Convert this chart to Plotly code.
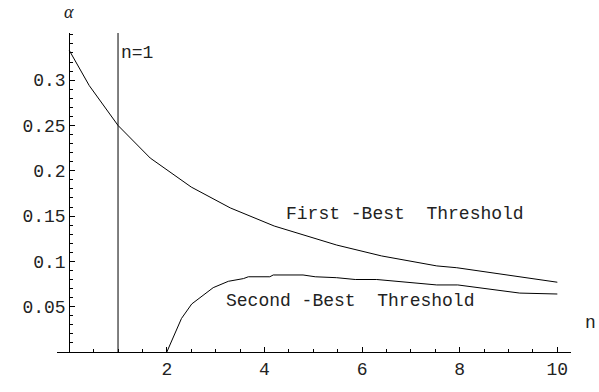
import plotly.graph_objects as go

# First-best threshold curve
fb_n = [0, 0.41, 1, 1.66, 2.5, 3.3, 4.2, 5.48, 6.4, 7.53, 7.94, 9.37, 10]
fb_a = [0.333, 0.294, 0.25, 0.214, 0.182, 0.159, 0.139, 0.118, 0.106, 0.095, 0.093, 0.082, 0.077]

# Second-best threshold curve
sb_n = [2.0, 2.13, 2.3, 2.51, 2.68, 2.95, 3.26, 3.57, 3.67, 4.11, 4.18, 4.79, 5.04, 5.48, 5.86, 6.3, 7.53, 7.96, 9.23, 10]
sb_a = [0.0, 0.016, 0.037, 0.053, 0.060, 0.071, 0.078, 0.081, 0.083, 0.083, 0.085, 0.085, 0.083, 0.082, 0.080, 0.080, 0.074, 0.074, 0.065, 0.064]

x_ticks = [2, 4, 6, 8, 10]
y_ticks = [0.05, 0.1, 0.15, 0.2, 0.25, 0.3]
y_tick_labels = ["0.05", "0.1", "0.15", "0.2", "0.25", "0.3"]

vline_n = 1

FONT = "Liberation Mono"
FS = 18

W, H = 599, 392
ML, MR, MT, MB = 57, 28, 33, 35

fig = go.Figure()
fig.add_trace(go.Scatter(x=fb_n, y=fb_a, mode="lines", line=dict(color="black", width=1), showlegend=False, hoverinfo="skip"))
fig.add_trace(go.Scatter(x=sb_n, y=sb_a, mode="lines", line=dict(color="black", width=1), showlegend=False, hoverinfo="skip"))
fig.add_trace(go.Scatter(x=[vline_n, vline_n], y=[0, 0.352], mode="lines", line=dict(color="black", width=1), showlegend=False, hoverinfo="skip"))

xr = [-0.25, 10.28]
yr = [0, 0.352]
pw = W - ML - MR
ph = H - MT - MB


def px_to_paper(px, py):
    return (px - ML) / pw, ((H - MB) - py) / ph


ax, ay = px_to_paper(69, 12)
nx, ny = px_to_paper(590, 328)

fig.update_layout(
    width=W, height=H,
    margin=dict(l=ML, r=MR, t=MT, b=MB),
    paper_bgcolor="white", plot_bgcolor="white",
    font=dict(family=FONT, size=FS, color="#222"),
    xaxis=dict(range=xr, showgrid=False, zeroline=False, showline=True, linecolor="black", linewidth=1,
               tickvals=x_ticks, ticks="inside", ticklen=5, tickcolor="black",
               minor=dict(dtick=0.5, tick0=0, ticks="inside", ticklen=3, tickcolor="black"),
               tickfont=dict(family=FONT, size=FS)),
    yaxis=dict(range=yr, showgrid=False, zeroline=False, showline=True, linecolor="black", linewidth=1,
               anchor="free", position=(0 - xr[0]) / (xr[1] - xr[0]),
               tickvals=y_ticks, ticktext=y_tick_labels, ticks="inside", ticklen=5, tickcolor="black",
               minor=dict(dtick=0.01, tick0=0, ticks="inside", ticklen=3, tickcolor="black"),
               tickfont=dict(family=FONT, size=FS)),
    annotations=[
        dict(text="n=1", x=vline_n, y=0.330, xref="x", yref="y", xanchor="left", yanchor="middle",
             showarrow=False, xshift=1, font=dict(family=FONT, size=FS)),
        dict(text="First -Best  Threshold", x=6.88, y=0.152, xref="x", yref="y", xanchor="center",
             yanchor="middle", showarrow=False, font=dict(family=FONT, size=FS)),
        dict(text="Second -Best  Threshold", x=5.75, y=0.0565, xref="x", yref="y", xanchor="center",
             yanchor="middle", showarrow=False, font=dict(family=FONT, size=FS)),
        dict(text="<i>α</i>", x=ax, y=ay, xref="paper", yref="paper", xanchor="center", yanchor="middle",
             showarrow=False, font=dict(family="Liberation Serif", size=18)),
        dict(text="n", x=nx, y=ny, xref="paper", yref="paper", xanchor="center", yanchor="middle",
             showarrow=False, font=dict(family=FONT, size=FS)),
    ],
)
fig.write_html("out.html", config={"displayModeBar": False},
               post_script="document.body.style.margin='0';document.body.style.overflow='hidden';")
